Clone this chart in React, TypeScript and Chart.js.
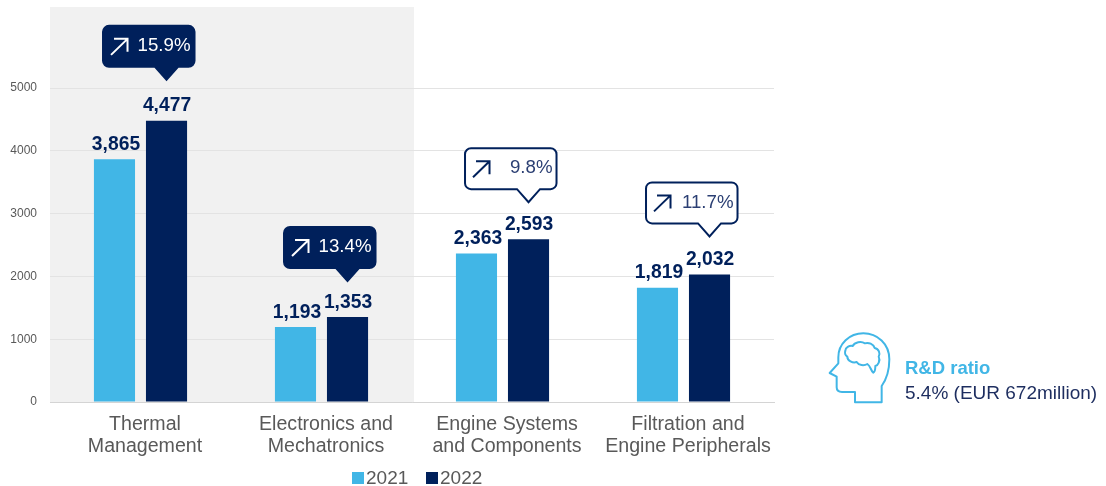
import React, { useEffect, useRef } from "react";
import { Chart, registerables } from "chart.js";

Chart.register(...registerables);

const FONT = '"Liberation Sans", Arial, sans-serif';
const NAVY = "#00205b";
const SKY = "#41b6e6";
const GREY_TEXT = "#595959";

const categories = [
  ["Thermal", "Management"],
  ["Electronics and", "Mechatronics"],
  ["Engine Systems", "and Components"],
  ["Filtration and", "Engine Peripherals"],
];
const values2021 = [3865, 1193, 2363, 1819];
const values2022 = [4477, 1353, 2593, 2032];
const yTicks = [0, 1000, 2000, 3000, 4000, 5000];
const growthLabels = ["15.9%", "13.4%", "9.8%", "11.7%"];
const growthFilled = [true, true, false, false];
const shadedCategories = [0, 1];
const ratioTitle = "R&D ratio";
const ratioText = "5.4% (EUR 672million)";

const HEAD_PATH =
  "M215 247 L215 198 C228 180 238 150 238 118 C238 72 202 40 160 40 C118 40 85 72 85 112 L85 130 L59 159 L80 170 L80 202 C80 211 87 216 96 216 L135 216 L135 247 Z";
const BRAIN_PATH =
  "M106 92 C106 82 118 76 128 78 C134 66 154 62 164 70 C176 66 190 72 194 84 C206 86 212 100 206 110 C212 122 204 136 196 138 C196 148 194 156 190 158 C182 152 182 138 172 132 C162 138 146 136 140 126 C128 130 112 122 112 110 C106 106 104 98 106 92 Z";

// Shaded band behind the first two categories, beneath the grid lines.
const shadePlugin = {
  id: "shade",
  beforeDraw(chart: any) {
    const { ctx, chartArea, scales } = chart;
    const band = scales.x.getPixelForValue(1) - scales.x.getPixelForValue(0);
    const first = shadedCategories[0];
    const last = shadedCategories[shadedCategories.length - 1];
    const left = scales.x.getPixelForValue(first) - band / 2;
    const right = scales.x.getPixelForValue(last) + band / 2 + 2;
    ctx.save();
    ctx.fillStyle = "#f1f1f1";
    ctx.fillRect(left, chartArea.top, right - left, scales.y.getPixelForValue(0) - chartArea.top);
    ctx.restore();
  },
};

// Thousands-separated value printed above each bar.
const valueLabelPlugin = {
  id: "valueLabels",
  afterDatasetsDraw(chart: any) {
    const { ctx } = chart;
    ctx.save();
    ctx.font = `bold 19.3px ${FONT}`;
    ctx.fillStyle = NAVY;
    ctx.textAlign = "center";
    ctx.textBaseline = "alphabetic";
    chart.data.datasets.forEach((ds: any, i: number) => {
      chart.getDatasetMeta(i).data.forEach((bar: any, j: number) => {
        const shift = i === 0 ? 1.5 : 0.5;
        ctx.fillText(ds.data[j].toLocaleString("en-US"), bar.x + shift, bar.y - 9.5);
      });
    });
    ctx.restore();
  },
};

// Speech bubble with growth arrow, its tail pointing at the 2022 bar.
function drawBubble(ctx: CanvasRenderingContext2D, tipX: number, tipY: number, label: string, filled: boolean) {
  const left = tipX - 63.5;
  const right = tipX + 28;
  const bottom = tipY - 13;
  const top = bottom - 41;
  const r = 6;
  const tail = 11.5;
  ctx.beginPath();
  ctx.moveTo(left + r, top);
  ctx.arcTo(right, top, right, bottom, r);
  ctx.arcTo(right, bottom, tipX + tail, bottom, r);
  ctx.lineTo(tipX + tail, bottom);
  ctx.lineTo(tipX, tipY);
  ctx.lineTo(tipX - tail, bottom);
  ctx.arcTo(left, bottom, left, top, r);
  ctx.arcTo(left, top, right, top, r);
  ctx.closePath();
  ctx.fillStyle = filled ? NAVY : "#ffffff";
  ctx.fill();
  ctx.strokeStyle = NAVY;
  ctx.lineWidth = 2;
  ctx.stroke();

  const ink = filled ? "#ffffff" : NAVY;
  ctx.strokeStyle = ink;
  ctx.lineWidth = 2;
  ctx.beginPath();
  ctx.moveTo(left + 8, top + 29);
  ctx.lineTo(left + 24.5, top + 13);
  ctx.moveTo(left + 11, top + 13);
  ctx.lineTo(left + 24.5, top + 13);
  ctx.lineTo(left + 24.5, top + 26);
  ctx.stroke();

  ctx.fillStyle = filled ? "#ffffff" : "#2b3f73";
  ctx.font = `18.7px ${FONT}`;
  ctx.textAlign = "right";
  ctx.textBaseline = "middle";
  ctx.fillText(label, right - 4, top + 20);
}

const bubblePlugin = {
  id: "bubbles",
  afterDatasetsDraw(chart: any) {
    const { ctx } = chart;
    const lift = [41, 36, 37, 38];
    ctx.save();
    chart.getDatasetMeta(1).data.forEach((bar: any, j: number) => {
      drawBubble(ctx, bar.x, bar.y - lift[j], growthLabels[j], growthFilled[j]);
    });
    ctx.restore();
  },
};

// Series key under the axis, with the swatch set tight against its label.
const keyPlugin = {
  id: "seriesKey",
  afterDraw(chart: any) {
    const { ctx } = chart;
    ctx.save();
    ctx.font = `19px ${FONT}`;
    ctx.textAlign = "left";
    ctx.textBaseline = "middle";
    let x = 352;
    chart.data.datasets.forEach((ds: any) => {
      ctx.fillStyle = ds.backgroundColor;
      ctx.fillRect(x, 472, 12, 12);
      ctx.fillStyle = GREY_TEXT;
      ctx.fillText(ds.label, x + 14, 478.5);
      x += 74;
    });
    ctx.restore();
  },
};

// R&D note to the right of the plot: head outline, heading and figure.
const notePlugin = {
  id: "rdNote",
  afterDraw(chart: any) {
    const { ctx } = chart;
    ctx.save();
    ctx.translate(810, 320);
    ctx.scale(1 / 3, 1 / 3);
    ctx.strokeStyle = SKY;
    ctx.lineWidth = 6;
    ctx.lineJoin = "round";
    ctx.stroke(new Path2D(HEAD_PATH));
    ctx.stroke(new Path2D(BRAIN_PATH));
    ctx.restore();

    ctx.save();
    ctx.textAlign = "left";
    ctx.textBaseline = "alphabetic";
    ctx.font = `bold 18.5px ${FONT}`;
    ctx.fillStyle = SKY;
    ctx.fillText(ratioTitle, 905, 374);
    ctx.font = `19px ${FONT}`;
    ctx.fillStyle = "#1d2d5f";
    ctx.fillText(ratioText, 905, 399);
    ctx.restore();
  },
};

// Axis label overhang must not push the plot area in.
function clearPadding(scale: any) {
  scale.paddingTop = 0;
  scale.paddingBottom = 0;
  scale.paddingLeft = 0;
  scale.paddingRight = 0;
}

export default function App() {
  const ref = useRef<HTMLCanvasElement>(null);

  useEffect(() => {
    const chart = new Chart(ref.current as HTMLCanvasElement, {
      type: "bar",
      data: {
        labels: categories as any,
        datasets: [
          { label: "2021", data: values2021, backgroundColor: SKY, barPercentage: 0.79, categoryPercentage: 0.575 },
          { label: "2022", data: values2022, backgroundColor: NAVY, barPercentage: 0.79, categoryPercentage: 0.575 },
        ],
      },
      options: {
        responsive: false,
        animation: false,
        layout: { autoPadding: false, padding: { top: 7, right: 332, left: 0, bottom: 0 } },
        plugins: { legend: { display: false }, tooltip: { enabled: false } },
        scales: {
          x: {
            afterFit(scale: any) {
              scale.height = 84;
              clearPadding(scale);
            },
            grid: { display: false },
            border: { display: true, color: "#d4d4d4", width: 1 },
            ticks: {
              autoSkip: false,
              maxRotation: 0,
              minRotation: 0,
              padding: 4,
              labelOffset: 4.5,
              color: GREY_TEXT,
              font: { family: FONT, size: 19.6, lineHeight: 1.12 },
            },
          },
          y: {
            min: 0,
            max: 6290,
            afterFit(scale: any) {
              scale.width = 50;
              clearPadding(scale);
            },
            afterBuildTicks(scale: any) {
              scale.ticks = yTicks.map((value) => ({ value }));
            },
            grid: { color: "#e3e3e3", drawTicks: false, lineWidth: 1 },
            border: { display: false },
            ticks: {
              padding: 13,
              color: GREY_TEXT,
              callback: (v: any) => String(v),
              font: { family: FONT, size: 12 },
            },
          },
        },
      },
      plugins: [shadePlugin, valueLabelPlugin, bubblePlugin, keyPlugin, notePlugin],
    } as any);
    return () => chart.destroy();
  }, []);

  return (
    <canvas
      ref={ref}
      width={1106}
      height={486}
      style={{ position: "fixed", left: 0, top: 0, display: "block" }}
    />
  );
}
